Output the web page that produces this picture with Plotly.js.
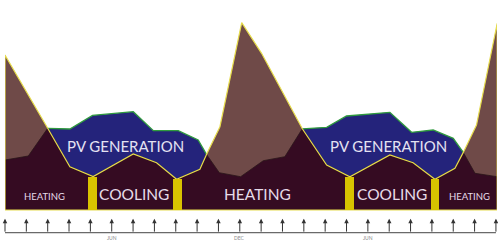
<!DOCTYPE html>
<html>
<head>
<meta charset="utf-8">
<script src="https://cdn.plot.ly/plotly-3.0.1.min.js"></script>
<style>html,body{margin:0;padding:0;background:#fff;}#chart{width:498px;height:241px;}</style>
</head>
<body>
<div id="chart"></div>
<script>
// Month index (0 = JAN, 23 = DEC of second year)
var demandX = [0, 2.0, 3.04, 4.13, 6.01, 7.1, 8.04, 9.13, 9.44, 10.07, 11.09, 12.02, 13.93, 15.07, 16.16, 18.03, 19.12, 20.14, 21.08, 21.47, 22.09, 23.06];
var demand  = [77.5, 40.85, 21.65, 16.75, 28, 23.65, 15.35, 20.35, 27.8, 41.65, 93.65, 78.35, 40.6, 22.5, 16.65, 27.5, 23.65, 15.35, 20.85, 28.8, 42.5, 93.35];

var baseX = [0, 1.09, 2.0, 3.04, 4.13, 6.01, 7.1, 8.04, 9.13, 9.44, 10.04, 11.04, 12.1, 13.11, 13.93, 15.07, 16.16, 18.03, 19.12, 20.14, 21.08, 21.47, 22.02, 23.06];
var base  = [25, 27, 40.85, 21.65, 16.75, 28, 23.65, 15.35, 20.35, 27.8, 18.65, 16.65, 24.65, 26.65, 40.6, 22.5, 16.65, 27.5, 23.65, 15.35, 20.85, 28.8, 18.35, 16.65];

var pv1X = [2.0, 3.04, 4.1, 6.01, 6.95, 8.12, 9.05, 9.44];
var pv1  = [40.85, 40.5, 47.3, 49.15, 39.65, 39.65, 35, 27.8];
var pv2X = [13.93, 15.07, 16.0, 18.03, 19.05, 20.06, 21.0, 21.47];
var pv2  = [40.6, 41.35, 47, 48.85, 38.85, 40, 35.85, 28.8];

var coolX = [4.1, 8.07, 16.13, 20.15];
var cool  = [16.35, 15.35, 16.35, 15.35];

var monthTicks = [];
for (var m = 0; m < 24; m++) monthTicks.push(m);
var tickVals   = [5, 11, 17];
var tickLabels = ['JUN', 'DEC', 'JUN'];

var labelText = ['HEATING', 'COOLING', 'HEATING', 'COOLING', 'HEATING', 'PV GENERATION', 'PV GENERATION'];
var labelX    = [1.83, 6.04, 11.82, 18.13, 21.75, 5.66, 17.96];
var labelY    = [7, 8, 8, 8, 7, 32.25, 32.25];
var labelSize = [9.5, 15.5, 15.5, 15.5, 9.5, 15, 15];

// closed outline polygon built from the demand curve
var n = demandX.length;
var polyX = [demandX[0]].concat(demandX, [demandX[n-1], demandX[0]]);
var polyY = [0].concat(demand, [0, 0]);

var traces = [
  {x: polyX, y: polyY, type: 'scatter', mode: 'lines', fill: 'toself', fillcolor: '#6f4a48',
   line: {width: 0}, hoverinfo: 'skip', showlegend: false},
  {x: pv1X, y: pv1, type: 'scatter', mode: 'lines', fill: 'tozeroy', fillcolor: '#24237b',
   line: {color: '#2f9a3e', width: 1.3}, showlegend: false},
  {x: pv2X, y: pv2, type: 'scatter', mode: 'lines', fill: 'tozeroy', fillcolor: '#24237b',
   line: {color: '#2f9a3e', width: 1.3}, showlegend: false},
  {x: baseX, y: base, type: 'scatter', mode: 'lines', fill: 'tozeroy', fillcolor: '#350b22',
   line: {color: '#2a1519', width: 0.8}, showlegend: false},
  {x: polyX, y: polyY, type: 'scatter', mode: 'lines',
   line: {color: '#e6dc4c', width: 1.2}, showlegend: false},
  {x: coolX, y: cool, type: 'bar', width: 0.4, marker: {color: '#d8c300', line: {width: 0}},
   xaxis: 'x', yaxis: 'y2', showlegend: false}
];

var annotations = [];
// tick arrows below the chart
monthTicks.forEach(function (m) {
  annotations.push({x: m, xref: 'x', y: -0.038, yref: 'paper', text: '', showarrow: true,
    ax: 0, ay: 14.5, arrowhead: 2, arrowsize: 0.9, arrowwidth: 1, arrowcolor: '#333'});
});
tickVals.forEach(function (v, i) {
  annotations.push({x: v, xref: 'x', y: -0.136, yref: 'paper', text: tickLabels[i], showarrow: false,
    xanchor: 'center', yanchor: 'middle', font: {family: 'Lato, sans-serif', size: 5, color: '#8a8a8a'}});
});
labelText.forEach(function (t, i) {
  annotations.push({x: labelX[i], y: labelY[i], xref: 'x', yref: 'y', text: t, showarrow: false,
    xanchor: 'center', yanchor: 'middle',
    font: {family: 'Lato, sans-serif', size: labelSize[i], color: i >= 5 ? '#e4e2f2' : '#e6dbe8'}});
});

var layout = {
  width: 498, height: 241,
  margin: {l: 5, r: 1, t: 10, b: 30, pad: 0},
  paper_bgcolor: '#ffffff', plot_bgcolor: '#ffffff',
  showlegend: false,
  xaxis: {range: [0, 23.05], visible: false, fixedrange: true},
  yaxis: {range: [-0.5, 100], visible: false, fixedrange: true},
  yaxis2: {range: [-0.5, 100], overlaying: 'y', visible: false, fixedrange: true},
  bargap: 0,
  annotations: annotations,
  shapes: [{type: 'line', xref: 'x', yref: 'paper', x0: 0, x1: 23, y0: -0.108, y1: -0.108,
            line: {color: '#444', width: 1}}]
};

Plotly.newPlot('chart', traces, layout, {displayModeBar: false, staticPlot: true});
</script>
</body>
</html>
